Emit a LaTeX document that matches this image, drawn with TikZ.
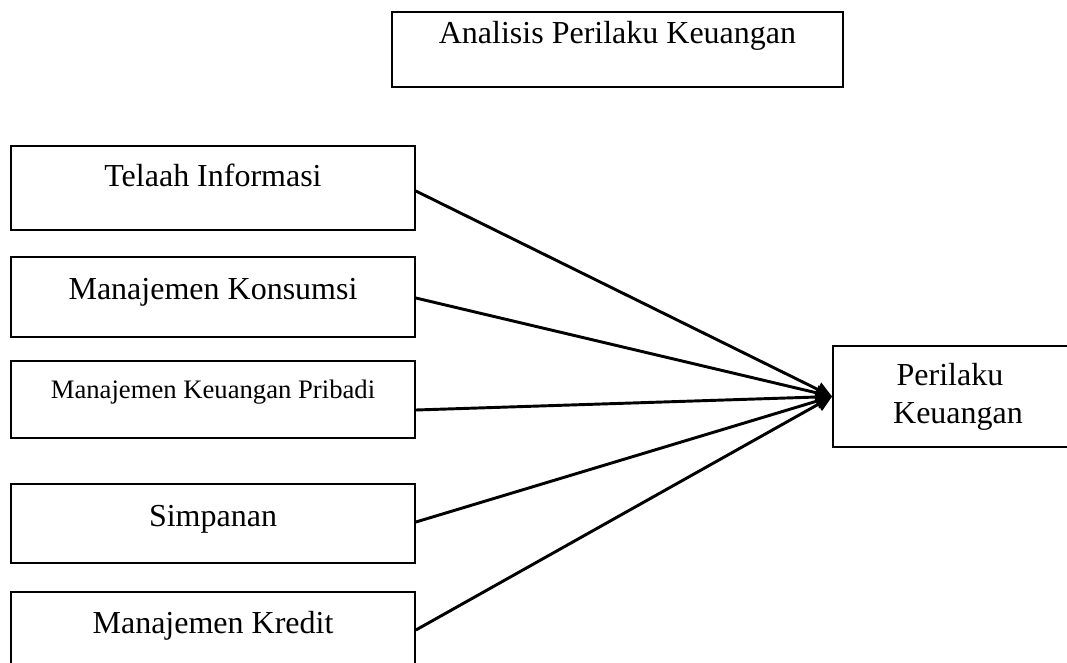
\documentclass[tikz,border=0pt]{standalone}
\usepackage{fontspec}
\setmainfont{Liberation Serif}
\usetikzlibrary{arrows.meta}
\begin{document}
\begin{tikzpicture}[x=0.75pt,y=-0.75pt,
  box/.style={draw=black,line width=1.3pt,fill=white,inner sep=0pt},
  lbl/.style={anchor=base,inner sep=0pt,font=\fontsize{24pt}{29pt}\selectfont},
  small/.style={anchor=base,inner sep=0pt,font=\fontsize{20pt}{24pt}\selectfont},
  conn/.style={line width=2.2pt,-{Triangle[length=12pt,width=11pt]}}]
\useasboundingbox (0,0) rectangle (1067,662);
\clip (0,0) rectangle (1067,662);
% top box
\node[box,minimum width=451*0.75pt,minimum height=75*0.75pt] (top) at (617.5,49.5) {};
\node[lbl] (ttop) at (617.5,43) {Analisis Perilaku Keuangan};
% left boxes
\node[box,minimum width=404*0.75pt,minimum height=84*0.75pt] (b1) at (213,188) {};
\node[lbl] (t1) at (213,186) {Telaah Informasi};
\node[box,minimum width=404*0.75pt,minimum height=80*0.75pt] (b2) at (213,297) {};
\node[lbl] (t2) at (213,299) {Manajemen Konsumsi};
\node[box,minimum width=404*0.75pt,minimum height=77*0.75pt] (b3) at (213,399.5) {};
\node[small] (t3) at (213,398) {Manajemen Keuangan Pribadi};
\node[box,minimum width=404*0.75pt,minimum height=79*0.75pt] (b4) at (213,523.5) {};
\node[lbl] (t4) at (213,526) {Simpanan};
\node[box,minimum width=404*0.75pt,minimum height=80*0.75pt] (b5) at (213,632) {};
\node[lbl] (t5) at (213,633) {Manajemen Kredit};
% right box
\node[box,minimum width=247*0.75pt,minimum height=101*0.75pt] (pk) at (956.5,396.5) {};
\node[lbl] (tp1) at (950,385) {Perilaku};
\node[lbl] (tp2) at (958,423) {Keuangan};
% connectors
\draw[conn] ([yshift=-3*0.75pt]b1.east) -- (pk.west);
\draw[conn] ([yshift=-1*0.75pt]b2.east) -- (pk.west);
\draw[conn] ([yshift=-10.5*0.75pt]b3.east) -- (pk.west);
\draw[conn] ([yshift=1.5*0.75pt]b4.east) -- (pk.west);
\draw[conn] ([yshift=2*0.75pt]b5.east) -- (pk.west);
\end{tikzpicture}
\end{document}
